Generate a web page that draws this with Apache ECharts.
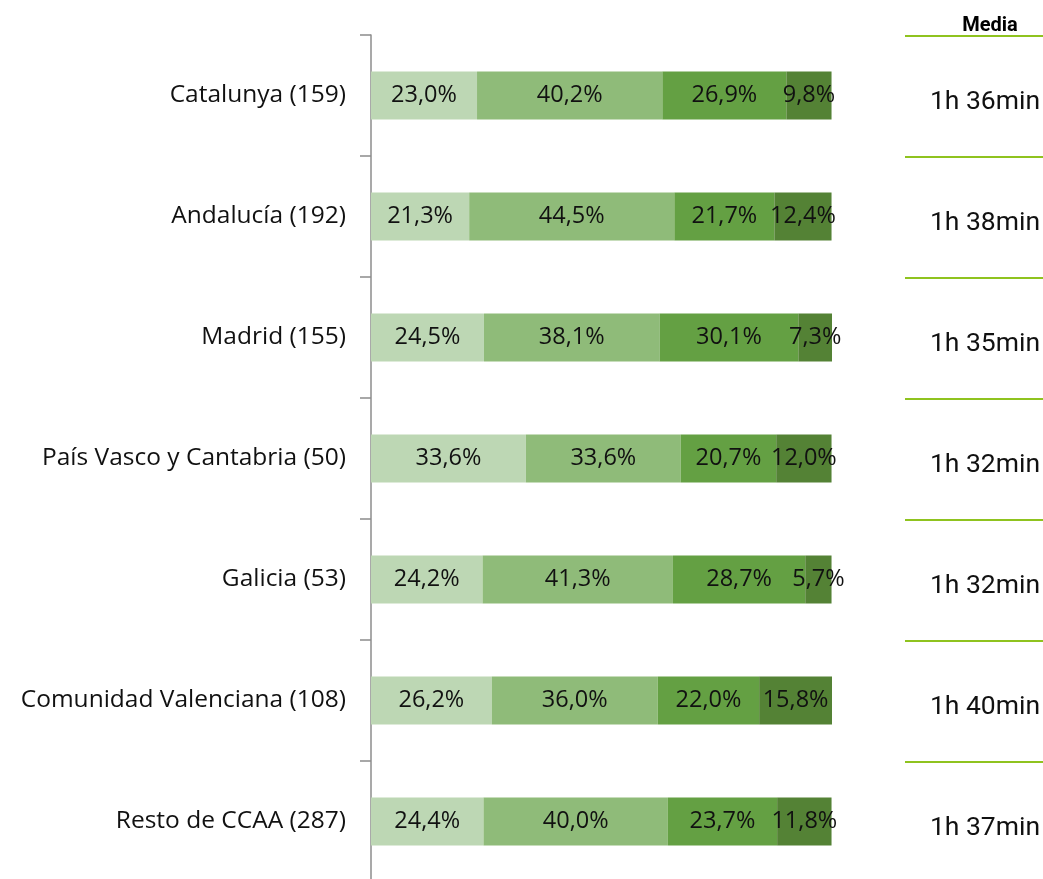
<!DOCTYPE html>
<html>
<head>
<meta charset="utf-8">
<script src="https://cdn.jsdelivr.net/npm/echarts@6/dist/echarts.min.js"></script>
<style>
  html, body { margin: 0; padding: 0; background: #fff; }
  #chart { width: 1043px; height: 879px; }
</style>
</head>
<body>
<div id="chart"></div>
<script>
const regions = [
  'Catalunya (159)',
  'Andalucía (192)',
  'Madrid (155)',
  'País Vasco y Cantabria (50)',
  'Galicia (53)',
  'Comunidad Valenciana (108)',
  'Resto de CCAA (287)'
];
const seg1 = [23.0, 21.3, 24.5, 33.6, 24.2, 26.2, 24.4];
const seg2 = [40.2, 44.5, 38.1, 33.6, 41.3, 36.0, 40.0];
const seg3 = [26.9, 21.7, 30.1, 20.7, 28.7, 22.0, 23.7];
const seg4 = [9.8, 12.4, 7.3, 12.0, 5.7, 15.8, 11.8];
const media = ['1h 36min', '1h 38min', '1h 35min', '1h 32min', '1h 32min', '1h 40min', '1h 37min'];

const colors = ['#bdd7b4', '#8fbb79', '#64a043', '#548235'];

// bar labels use decimal comma
const pct = v => v.toFixed(1).replace('.', ',') + '%';

const chart = echarts.init(document.getElementById('chart'), null, { renderer: 'canvas' });

const makeSeries = (data, i) => ({
  type: 'bar',
  stack: 'total',
  data: data,
  barWidth: 48,
  xAxisIndex: 0,
  yAxisIndex: 0,
  itemStyle: { color: colors[i] },
  label: {
    show: true,
    position: 'inside',
    formatter: p => pct(p.value),
    color: '#111',
    fontFamily: 'Open Sans',
    fontSize: 23.5
  },
  silent: true
});

chart.setOption({
  animation: false,
  title: {
    text: 'Media',
    left: 985,
    top: 11,
    textAlign: 'center',
    textStyle: { fontFamily: 'Roboto', fontWeight: 'bold', fontSize: 20, color: '#000' }
  },
  grid: [
    { left: 371, top: 35, width: 461, height: 847, outerBoundsMode: 'none' },
    { left: 905, top: 36, right: 0, height: 847, outerBoundsMode: 'none' }
  ],
  xAxis: [
    { type: 'value', min: 0, max: 100, show: false, gridIndex: 0 },
    { type: 'value', min: 0, max: 1, show: false, gridIndex: 1 }
  ],
  yAxis: [
    {
      type: 'category',
      data: regions,
      inverse: true,
      gridIndex: 0,
      axisLine: { show: true, lineStyle: { color: '#8c8c8c', width: 1.5 } },
      axisTick: { show: true, length: 11, lineStyle: { color: '#8c8c8c', width: 1.5 } },
      axisLabel: { fontFamily: 'Open Sans', fontSize: 24.5, color: '#111', margin: 25 }
    },
    {
      type: 'category',
      data: media,
      inverse: true,
      gridIndex: 1,
      position: 'right',
      axisLine: { show: false },
      axisTick: { show: false },
      splitLine: { show: true, lineStyle: { color: '#8fc31f', width: 2 } },
      axisLabel: {
        inside: true,
        align: 'center',
        margin: 58,
        // push the text a little below the band centre, as in the original
        formatter: v => '{t|' + v + '}',
        rich: {
          t: {
            fontFamily: 'Roboto',
            fontSize: 26.5,
            color: '#111',
            padding: [12, 0, 0, 0]
          }
        }
      }
    }
  ],
  series: [seg1, seg2, seg3, seg4].map(makeSeries)
});
</script>
</body>
</html>
